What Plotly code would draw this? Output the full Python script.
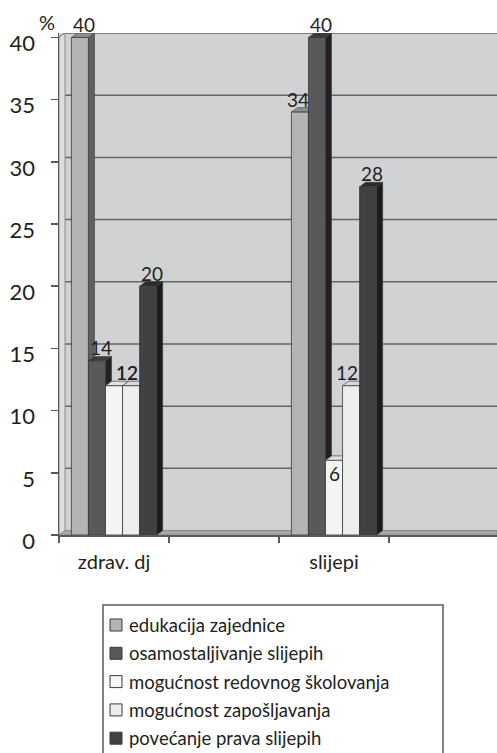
import plotly.graph_objects as go

# ---------------- data ----------------
categories = ["zdrav. dj", "slijepi"]
slots = ["zdrav. dj", "", "slijepi", ""]          # category slots along the x axis
series_names = [
    "edukacija zajednice",
    "osamostaljivanje slijepih",
    "mogućnost redovnog školovanja",
    "mogućnost zapošljavanja",
    "povećanje prava slijepih",
]
edukacija = [40, 34]
osamostaljivanje = [14, 40]
redovno_skolovanje = [12, 6]
zaposljavanje = [12, 12]
povecanje_prava = [20, 28]
y_tick_values = [0, 5, 10, 15, 20, 25, 30, 35, 40]

series_values = [edukacija, osamostaljivanje, redovno_skolovanje, zaposljavanje, povecanje_prava]

# ---------------- styles ----------------
front_colors = ["#b3b4b6", "#58595b", "#f3f4f3", "#eceeec", "#414042"]
side_colors = ["#5e5f61", "#231f20", "#b9baba", "#b0b1b1", "#1d1b1c"]
top_colors = ["#8e8f91", "#3b3b3d", "#dfe0df", "#d9dad9", "#2c2b2c"]
edge = "#3a3a3a"
grid_col = "#636466"
axis_col = "#58595b"
text_col = "#231f20"
FONT = "Lato"

W, H = 497, 753
PL, PT, PB = 59, 33, 535          # plot area pixel box (left, top, bottom); right = W
PW, PH = W - PL, PB - PT


def px(xp):
    return (xp - PL) / PW


def py(yp):
    return (PB - yp) / PH


GROUP_W = 0.775
N = len(series_values)
BW = GROUP_W / N
DX = 0.055     # depth offset (x units)
DY = 0.36      # depth offset (y units)
X_MIN = -0.5
X_MAX = X_MIN + PW / 110.0
Y_MAX = max(y_tick_values) + DY

# label placement tweaks (pixel shifts relative to bar centre, like the reference)
default_xshift = 4
xshift_over = {(0, 1): -2, (3, 1): -4, (2, 1): 0}
below_labels = {(2, 1)}
# equal neighbouring labels that the reference draws on top of each other (at their shared edge)
shared_edge_labels = {(2, 0): "right", (3, 0): "left"}

xpos = [slots.index(c) for c in categories]

fig = go.Figure()
shapes = []
annotations = []

# back-wall gridlines, side wall and floor
for v in y_tick_values[1:]:
    shapes.append(dict(type="line", xref="x", yref="y", x0=X_MIN + DX, x1=X_MAX,
                       y0=v + DY, y1=v + DY, line=dict(color=grid_col, width=1.5), layer="below"))
    shapes.append(dict(type="line", xref="x", yref="y", x0=X_MIN, x1=X_MIN + DX,
                       y0=v, y1=v + DY, line=dict(color=grid_col, width=1.2), layer="below"))
shapes.append(dict(type="path", xref="x", yref="y",
                   path=f"M{X_MIN},0 L{X_MIN},{max(y_tick_values)} L{X_MIN+DX},{Y_MAX} L{X_MIN+DX},{DY} Z",
                   fillcolor="#dcdde0", line=dict(color="#8a8b8d", width=1), layer="below"))
shapes.append(dict(type="path", xref="x", yref="y",
                   path=f"M{X_MIN},0 L{X_MAX},0 L{X_MAX},{DY} L{X_MIN+DX},{DY} Z",
                   fillcolor="#a7a8aa", line=dict(color="#8a8b8d", width=1), layer="below"))

for i, (name, vals) in enumerate(zip(series_names, series_values)):
    off = -GROUP_W / 2 + i * BW
    fig.add_trace(go.Bar(
        x=xpos, y=vals, name=name, width=BW, offset=off,
        marker=dict(color=front_colors[i], line=dict(color=edge, width=0.8)),
        hoverinfo="skip", showlegend=False,
    ))
    for j, v in enumerate(vals):
        xl = xpos[j] + off
        xr = xl + BW
        # side face
        shapes.append(dict(type="path", xref="x", yref="y",
                           path=f"M{xr},0 L{xr},{v} L{xr+DX},{v+DY} L{xr+DX},{DY} Z",
                           fillcolor=side_colors[i], line=dict(color=edge, width=0.6), layer="between"))
        # top face
        shapes.append(dict(type="path", xref="x", yref="y",
                           path=f"M{xl},{v} L{xr},{v} L{xr+DX},{v+DY} L{xl+DX},{v+DY} Z",
                           fillcolor=top_colors[i], line=dict(color=edge, width=0.6), layer="between"))
        below = (i, j) in below_labels
        if (i, j) in shared_edge_labels:
            lx = xr if shared_edge_labels[(i, j)] == "right" else xl
        else:
            lx = xl + BW / 2
        annotations.append(dict(
            x=lx, y=v, xref="x", yref="y", text=str(v), showarrow=False,
            xanchor="center", yanchor="middle",
            xshift=xshift_over.get((i, j), default_xshift),
            yshift=-13 if below else 13,
            font=dict(family=FONT, size=19, color=text_col),
        ))

# "%" unit label
annotations.append(dict(x=px(47), y=py(22), xref="paper", yref="paper", text="%", showarrow=False,
                        xanchor="center", yanchor="middle", font=dict(family=FONT, size=20, color=text_col)))

# custom legend (box open at the bottom edge, swatches, texts)
LEG_L, LEG_R, LEG_T = 103, 443, 605
LEG_Y0, LEG_STEP = 625, 28.3
shapes.append(dict(type="rect", xref="paper", yref="paper", x0=px(LEG_L), x1=px(LEG_R),
                   y0=py(LEG_T), y1=py(H + 20), line=dict(color=axis_col, width=1.5),
                   fillcolor="white", layer="above"))
for i, name in enumerate(series_names):
    yc = LEG_Y0 + i * LEG_STEP
    shapes.append(dict(type="rect", xref="paper", yref="paper", x0=px(110), x1=px(122),
                       y0=py(yc - 6), y1=py(yc + 6), fillcolor=front_colors[i],
                       line=dict(color=edge, width=1), layer="above"))
    annotations.append(dict(x=px(127), y=py(yc), xref="paper", yref="paper", text=name,
                            showarrow=False, xanchor="left", yanchor="middle",
                            font=dict(family=FONT, size=18.5, color=text_col)))

fig.update_layout(
    width=W, height=H,
    margin=dict(l=PL, r=0, t=PT, b=H - PB, autoexpand=False),
    paper_bgcolor="white", plot_bgcolor="#d1d2d4",
    barmode="overlay",
    showlegend=False,
    shapes=shapes, annotations=annotations,
    font=dict(family=FONT, color=text_col),
    xaxis=dict(
        type="linear", range=[X_MIN, X_MAX], automargin=False,
        tickmode="array", tickvals=list(range(len(slots))), ticktext=slots,
        ticks="", showgrid=False, zeroline=False,
        showline=True, linecolor=axis_col, linewidth=1.5,
        tickfont=dict(family=FONT, size=20, color=text_col),
        ticklabelstandoff=8,
        minor=dict(tickmode="array", tickvals=[k - 0.5 for k in range(len(slots) + 1)],
                   ticks="outside", ticklen=6, tickwidth=1.5, tickcolor=axis_col, showgrid=False),
    ),
    yaxis=dict(
        range=[0, Y_MAX], tickmode="array", tickvals=y_tick_values, automargin=False,
        ticks="outside", ticklen=7, tickwidth=1.5, tickcolor=axis_col,
        showline=True, linecolor=axis_col, linewidth=1.5,
        showgrid=False, zeroline=False,
        tickfont=dict(family=FONT, size=22, color=text_col),
        ticklabelstandoff=11, ticklabelshift=6,
    ),
)

# remove the page's default body margin so the figure sits at the window's top-left corner
fig.write_html("out.html", config={"displayModeBar": False, "staticPlot": True},
               post_script="document.body.style.margin='0';document.body.style.overflow='hidden';")
